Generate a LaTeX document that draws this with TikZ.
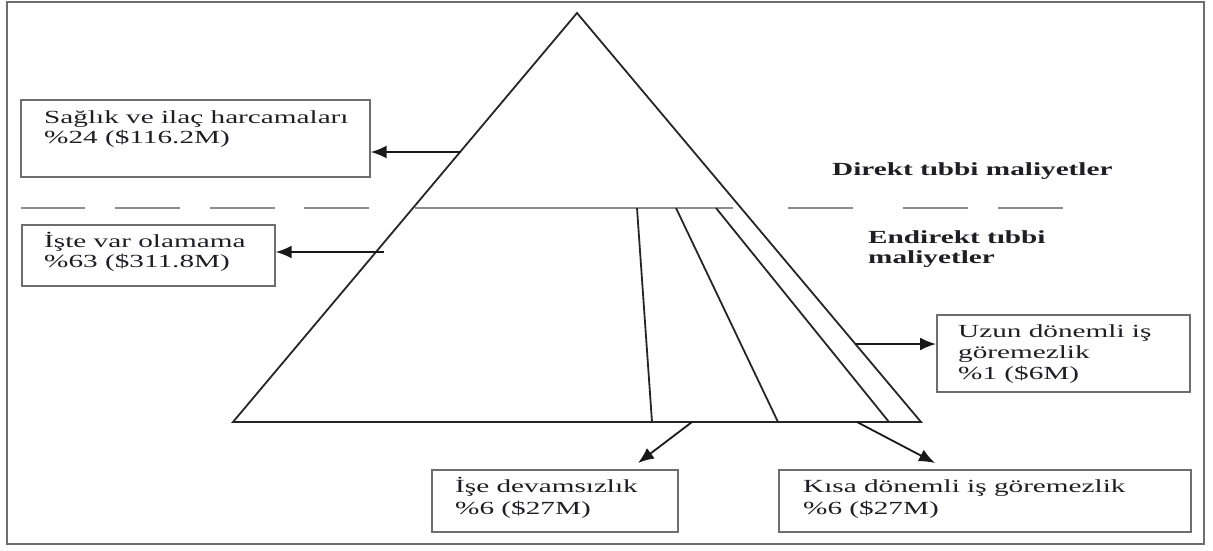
\documentclass[tikz,border=0pt]{standalone}
\usepackage{fontspec}
\setmainfont{Liberation Serif}
\usetikzlibrary{arrows.meta}
\definecolor{ink}{HTML}{1E1E24}
\definecolor{frame}{HTML}{6E6E6E}
\definecolor{divider}{HTML}{8C8C8C}
\newcommand{\wide}[1]{\scalebox{1.58}[1]{#1}}
\tikzset{
  box/.style={draw=frame, line width=1.7pt, rectangle, inner sep=0pt, anchor=north west},
  txt/.style={anchor=base west, inner sep=0pt, text=ink, font=\fontsize{18.5}{20}\selectfont},
  btxt/.style={txt, font=\fontsize{18.5}{20}\selectfont\bfseries},
  edge/.style={draw=black!85, line width=1.8pt, line join=miter},
  divline/.style={draw=divider, line width=2.2pt},
  arr/.style={draw=black!90, line width=1.8pt, -{Latex[length=16pt,width=13pt]}}
}
\begin{document}
\begin{tikzpicture}[x=1pt,y=-1pt]
\useasboundingbox (0,0) rectangle (1213,550);
% outer frame
\draw[frame, line width=1.5pt] (7,2) rectangle (1204,544);

% dashed divider
\foreach \a/\b in {21/85,115/180,210/275,304/369,788/853,903/968,998/1063}
  \draw[divline] (\a,208) -- (\b,208);
\draw[divline] (415,208) -- (733,208);

% pyramid
\coordinate (apex) at (577,13);
\coordinate (bl) at (233,422);
\coordinate (br) at (921,422);
\draw[edge] (bl) -- (apex) -- (br) -- cycle;
\draw[edge] (637,208) -- (652,422);
\draw[edge] (676,208) -- (778,422);
\draw[edge] (716,208) -- (889,422);

% boxes
\node[box, minimum width=349pt, minimum height=77pt] (bA) at (20,99) {};
\node[box, minimum width=253pt, minimum height=61pt] (bB) at (21,224) {};
\node[box, minimum width=253pt, minimum height=77pt] (bC) at (936,314) {};
\node[box, minimum width=246pt, minimum height=62pt] (bD) at (431,469) {};
\node[box, minimum width=412pt, minimum height=62pt] (bE) at (778,469) {};

% texts
\node[txt] (tA1) at (44,123) {\wide{Sağlık ve ilaç harcamaları}};
\node[txt] (tA2) at (44,143) {\wide{\%24 (\$116.2M)}};
\node[txt] (tB1) at (44,247) {\wide{İşte var olamama}};
\node[txt] (tB2) at (44,267) {\wide{\%63 (\$311.8M)}};
\node[txt] (tC1) at (958,337) {\wide{Uzun dönemli iş}};
\node[txt] (tC2) at (958,358) {\wide{göremezlik}};
\node[txt] (tC3) at (958,379) {\wide{\%1 (\$6M)}};
\node[txt] (tD1) at (455,492) {\wide{İşe devamsızlık}};
\node[txt] (tD2) at (455,514) {\wide{\%6 (\$27M)}};
\node[txt] (tE1) at (803,492) {\wide{Kısa dönemli iş göremezlik}};
\node[txt] (tE2) at (803,514) {\wide{\%6 (\$27M)}};
\node[btxt] (dir) at (832,175) {\wide{Direkt tıbbi maliyetler}};
\node[btxt] (ind1) at (868,243) {\wide{Endirekt tıbbi}};
\node[btxt] (ind2) at (868,263) {\wide{maliyetler}};

% arrows
\coordinate (sA) at (461,152);
\coordinate (sB) at (384,252);
\coordinate (sC) at (856,344);
\coordinate (sD) at (692,422);
\coordinate (eD) at (638,463);
\coordinate (sE) at (857,422);
\coordinate (eE) at (935,463);
\draw[arr] (sA) -- (sA -| bA.east);
\draw[arr] (sB) -- (sB -| bB.east);
\draw[arr] (sC) -- (sC -| bC.west);
\draw[arr] (sD) -- (eD);
\draw[arr] (sE) -- (eE);
\end{tikzpicture}
\end{document}
